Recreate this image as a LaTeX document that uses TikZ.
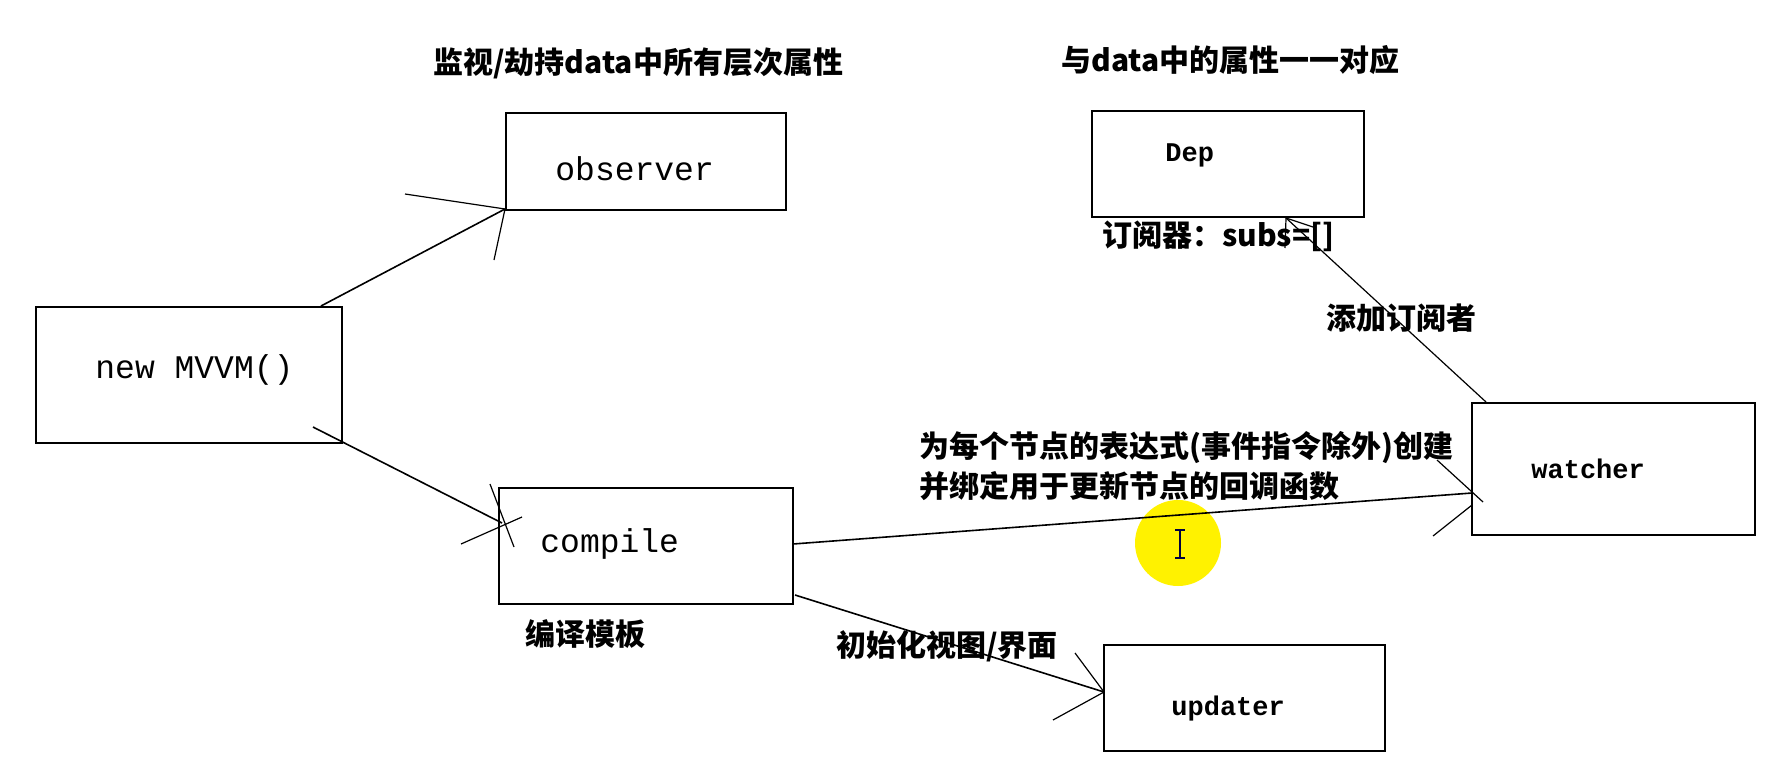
\documentclass[tikz,border=0pt]{standalone}
\usepackage{fontspec}
\newfontfamily\cjk{Noto Sans CJK SC}
\newfontfamily\mono{Liberation Mono}
\begin{document}
\begin{tikzpicture}[x=0.5pt,y=-0.5pt,
  box/.style={draw=black,line width=1pt,inner sep=0pt,outer sep=0pt,rectangle},
  lbl/.style={inner sep=0pt,anchor=west,font=\cjk\bfseries\fontsize{15}{18}\selectfont},
  mtxt/.style={inner sep=0pt,anchor=base west,font=\mono\fontsize{16.5}{20}\selectfont},
  btxt/.style={inner sep=0pt,anchor=base west,font=\mono\bfseries\fontsize{13.5}{16}\selectfont},
  shaft/.style={line width=0.8pt},
  barb/.style={line width=0.6pt}]

\useasboundingbox[fill=white] (0,0) rectangle (1780,776);

% cursor highlight
\fill[yellow] (1178,543) circle[radius=21.5pt];
\draw[line width=0.6pt,draw=black!75!blue] (1180,530) -- (1180,558)
  (1175,530) -- (1185,530) (1175,558) -- (1185,558);

% boxes
\node[box,minimum width=140pt,minimum height=48.5pt] (obs) at (646,161.5) {};
\node[box,minimum width=136pt,minimum height=53pt] (dep) at (1228,164) {};
\node[box,minimum width=153pt,minimum height=68pt] (mvvm) at (189,375) {};
\node[box,minimum width=147pt,minimum height=58pt] (comp) at (646,546) {};
\node[box,minimum width=141.5pt,minimum height=66pt] (watch) at (1613.5,469) {};
\node[box,minimum width=140.5pt,minimum height=53pt] (upd) at (1244.5,698) {};

% box texts
\node[mtxt] (obs-t) at (555,180) {observer};
\node[mtxt] (mvvm-t) at (95,378) {new MVVM()};
\node[mtxt] (comp-t) at (540,552) {compile};
\node[btxt] (dep-t) at (1165,161) {Dep};
\node[btxt] (watch-t) at (1531,478) {watcher};
\node[btxt] (upd-t) at (1171,715) {updater};

% labels
\node[lbl] (l-obs) at (433,63) {监视/劫持data中所有层次属性};
\node[lbl] (l-dep) at (1061,60) {与data中的属性一一对应};
\node[lbl] (l-subs) at (1102,236) {订阅器：subs=[]};
\node[lbl] (l-add) at (1326,318) {添加订阅者};
\node[lbl] (l-w1) at (919,448) {为每个节点的表达式(事件指令除外)创建};
\node[lbl] (l-w2) at (919,486) {并绑定用于更新节点的回调函数};
\node[lbl] (l-comp) at (525,634) {编译模板};
\node[lbl] (l-upd) at (836,646) {初始化视图/界面};

% connector points
\coordinate (mo-s) at (321,306);
\coordinate (mo-t) at (505,209);
\coordinate (mo-b1) at (405,194);
\coordinate (mo-b2) at (494,260);

\coordinate (mc-s) at (313,427);
\coordinate (mc-t) at (502,523);
\coordinate (mc-b1) at (490,484);
\coordinate (mc-b2) at (514,547);
\coordinate (mc-b3) at (461,544);
\coordinate (mc-b4) at (522,517);

\coordinate (cw-s) at (793,544);
\coordinate (cw-t) at (1472,493);
\coordinate (cw-b1) at (1437,460);
\coordinate (cw-b2) at (1483,502);
\coordinate (cw-b3) at (1433,536);
\coordinate (cw-b4) at (1472,505);

\coordinate (wd-s) at (1486,402);
\coordinate (wd-t) at (1286,218);
\coordinate (wd-b1) at (1285,248);
\coordinate (wd-b2) at (1316,228);

\coordinate (cu-s) at (795,595);
\coordinate (cu-t) at (1104,692);
\coordinate (cu-b1) at (1075,653);
\coordinate (cu-b2) at (1053,720);

% connectors
\draw[shaft] (mo-s) -- (mo-t);
\draw[barb] (mo-b1) -- (mo-t) -- (mo-b2);

\draw[shaft] (mc-s) -- (mc-t);
\draw[barb] (mc-b1) -- (mc-b2) (mc-b3) -- (mc-b4);

\draw[shaft] (cw-s) -- (cw-t);
\draw[barb] (cw-b1) -- (cw-b2) (cw-b3) -- (cw-b4);

\draw[barb] (wd-s) -- (wd-t);
\draw[barb] (wd-b1) -- (wd-t) -- (wd-b2);

\draw[shaft] (cu-s) -- (cu-t);
\draw[barb] (cu-b1) -- (cu-t) -- (cu-b2);
\end{tikzpicture}
\end{document}
